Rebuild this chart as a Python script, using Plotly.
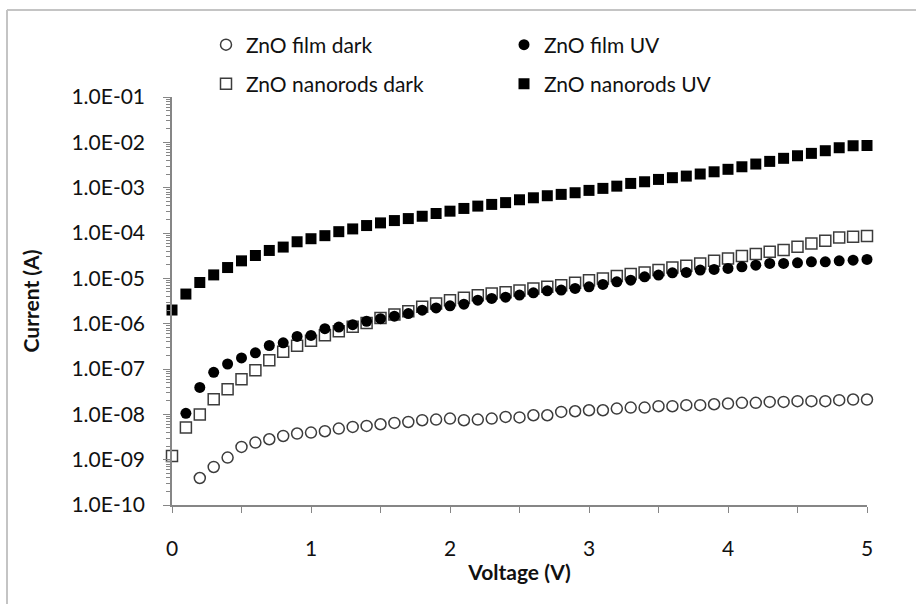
import plotly.graph_objects as go

# Bias voltage (V)
voltage = [0.0, 0.1, 0.2, 0.3, 0.4, 0.5, 0.6, 0.7, 0.8, 0.9,
           1.0, 1.1, 1.2, 1.3, 1.4, 1.5, 1.6, 1.7, 1.8, 1.9,
           2.0, 2.1, 2.2, 2.3, 2.4, 2.5, 2.6, 2.7, 2.8, 2.9,
           3.0, 3.1, 3.2, 3.3, 3.4, 3.5, 3.6, 3.7, 3.8, 3.9,
           4.0, 4.1, 4.2, 4.3, 4.4, 4.5, 4.6, 4.7, 4.8, 4.9, 5.0]

# Measured currents (A); None where no point was recorded
film_dark = [None, None, 3.94e-10, 6.90e-10, 1.11e-9, 1.91e-9, 2.38e-9, 2.82e-9, 3.33e-9, 3.77e-9,
             3.96e-9, 4.24e-9, 4.85e-9, 5.27e-9, 5.55e-9, 6.04e-9, 6.46e-9, 6.79e-9, 7.41e-9, 7.67e-9,
             8.07e-9, 7.41e-9, 7.67e-9, 8.07e-9, 8.77e-9, 8.55e-9, 9.55e-9, 9.55e-9, 1.13e-8, 1.17e-8,
             1.23e-8, 1.23e-8, 1.34e-8, 1.41e-8, 1.41e-8, 1.51e-8, 1.51e-8, 1.59e-8, 1.59e-8, 1.67e-8,
             1.73e-8, 1.79e-8, 1.79e-8, 1.88e-8, 1.88e-8, 1.95e-8, 1.95e-8, 1.95e-8, 2.05e-8, 2.12e-8, 2.12e-8]

film_uv = [None, 1.05e-8, 3.92e-8, 8.43e-8, 1.29e-7, 1.75e-7, 2.27e-7, 3.30e-7, 3.78e-7, 5.24e-7,
           5.51e-7, 7.74e-7, 8.43e-7, 9.51e-7, 1.13e-6, 1.29e-6, 1.46e-6, 1.67e-6, 1.98e-6, 2.23e-6,
           2.47e-6, 2.69e-6, 3.30e-6, 3.60e-6, 3.85e-6, 4.27e-6, 4.79e-6, 5.31e-6, 5.50e-6, 5.98e-6,
           6.50e-6, 7.33e-6, 8.38e-6, 9.12e-6, 1.08e-5, 1.18e-5, 1.32e-5, 1.35e-5, 1.52e-5, 1.57e-5,
           1.65e-5, 1.79e-5, 1.95e-5, 2.13e-5, 2.13e-5, 2.20e-5, 2.31e-5, 2.31e-5, 2.43e-5, 2.52e-5, 2.61e-5]

nanorods_dark = [1.20e-9, 5.10e-9, 9.90e-9, 2.15e-8, 3.58e-8, 5.96e-8, 9.42e-8, 1.56e-7, 2.39e-7, 3.24e-7,
                 4.18e-7, 5.57e-7, 6.82e-7, 8.51e-7, 1.04e-6, 1.34e-6, 1.60e-6, 1.89e-6, 2.35e-6, 2.79e-6,
                 3.30e-6, 3.72e-6, 4.26e-6, 4.65e-6, 4.91e-6, 5.40e-6, 5.98e-6, 6.50e-6, 7.08e-6, 7.96e-6,
                 9.12e-6, 9.93e-6, 1.12e-5, 1.24e-5, 1.35e-5, 1.52e-5, 1.74e-5, 1.89e-5, 2.13e-5, 2.43e-5,
                 2.75e-5, 3.09e-5, 3.42e-5, 3.85e-5, 4.20e-5, 4.95e-5, 5.89e-5, 6.73e-5, 8.00e-5, 8.24e-5, 8.55e-5]

nanorods_uv = [2.00e-6, 4.50e-6, 8.10e-6, 1.19e-5, 1.73e-5, 2.43e-5, 3.19e-5, 4.12e-5, 4.89e-5, 6.41e-5,
               7.48e-5, 8.73e-5, 1.07e-4, 1.23e-4, 1.46e-4, 1.67e-4, 1.88e-4, 2.08e-4, 2.34e-4, 2.69e-4,
               3.03e-4, 3.48e-4, 3.92e-4, 4.27e-4, 4.68e-4, 5.41e-4, 5.98e-4, 6.64e-4, 7.11e-4, 7.73e-4,
               8.71e-4, 9.64e-4, 1.08e-3, 1.24e-3, 1.35e-3, 1.52e-3, 1.66e-3, 1.80e-3, 2.00e-3, 2.24e-3,
               2.54e-3, 2.89e-3, 3.32e-3, 3.80e-3, 4.44e-3, 5.06e-3, 5.71e-3, 6.53e-3, 7.60e-3, 8.41e-3, 8.51e-3]

# Y-axis decades and their labels
y_tick_values = [1e-10, 1e-9, 1e-8, 1e-7, 1e-6, 1e-5, 1e-4, 1e-3, 1e-2, 1e-1]
y_tick_labels = ["1.0E-10", "1.0E-09", "1.0E-08", "1.0E-07", "1.0E-06",
                 "1.0E-05", "1.0E-04", "1.0E-03", "1.0E-02", "1.0E-01"]

FONT = "Lato, 'Open Sans', sans-serif"
TEXT = "#111111"
AXIS = "#868686"
OPEN_EDGE = "#3c3c3c"
MSIZE = 11

fig = go.Figure()

# Drawing order: dark curves first so the UV markers sit on top
fig.add_trace(go.Scatter(
    x=voltage, y=film_dark, mode="markers", name="ZnO film dark",
    marker=dict(symbol="circle-open", size=MSIZE, color=OPEN_EDGE, line=dict(width=1.5)),
    legend="legend", legendrank=1, cliponaxis=False))
fig.add_trace(go.Scatter(
    x=voltage, y=nanorods_dark, mode="markers", name="ZnO nanorods dark",
    marker=dict(symbol="square-open", size=MSIZE, color=OPEN_EDGE, line=dict(width=1.5)),
    legend="legend2", legendrank=1, cliponaxis=False))
fig.add_trace(go.Scatter(
    x=voltage, y=film_uv, mode="markers", name="ZnO film UV",
    marker=dict(symbol="circle", size=MSIZE, color="#000000"),
    legend="legend", legendrank=2, cliponaxis=False))
fig.add_trace(go.Scatter(
    x=voltage, y=nanorods_uv, mode="markers", name="ZnO nanorods UV",
    marker=dict(symbol="square", size=MSIZE, color="#000000"),
    legend="legend2", legendrank=2, cliponaxis=False))

W, H = 916, 604
L, R, T, B = 172, 49, 97, 99
pw, ph = W - L - R, H - T - B


def px_x(px):
    return (px - L) / pw


def px_y(py):
    return (H - B - py) / ph


legend_common = dict(
    orientation="h", xanchor="left", yanchor="middle",
    font=dict(family=FONT, size=21, color=TEXT),
    bgcolor="rgba(0,0,0,0)", entrywidth=253, entrywidthmode="pixels",
    traceorder="normal",
)

fig.update_layout(
    width=W, height=H,
    margin=dict(l=L, r=R, t=T, b=B),
    paper_bgcolor="white", plot_bgcolor="white",
    font=dict(family=FONT, size=21, color=TEXT),
    legend=dict(x=px_x(206), y=px_y(45), **legend_common),
    legend2=dict(x=px_x(206), y=px_y(84), **legend_common),
    xaxis=dict(
        range=[0, 5], dtick=1, tick0=0,
        showgrid=False, zeroline=False,
        showline=True, linecolor=AXIS, linewidth=1.5,
        ticks="outside", ticklen=6, tickcolor=AXIS, tickwidth=1,
        minor=dict(dtick=0.5, ticks="outside", ticklen=6, tickcolor=AXIS, showgrid=False),
        ticklabelstandoff=18,
        tickfont=dict(family=FONT, size=21, color=TEXT),
        title=dict(text="<b>Voltage (V)</b>", font=dict(family=FONT, size=21, color=TEXT), standoff=6),
    ),
    yaxis=dict(
        type="log", range=[-10, -1],
        tickvals=y_tick_values, ticktext=y_tick_labels,
        showgrid=False, zeroline=False,
        showline=True, linecolor=AXIS, linewidth=1.5,
        ticks="outside", ticklen=7, tickcolor=AXIS, tickwidth=1,
        minor=dict(dtick="D1", ticks="outside", ticklen=4, tickcolor=AXIS, showgrid=False),
        ticklabelstandoff=14,
        tickfont=dict(family=FONT, size=21, color=TEXT),
        title=dict(text="<b>Current (A)</b>", font=dict(family=FONT, size=21, color=TEXT), standoff=26),
    ),
    shapes=[
        # chart-area frame (top and left edges)
        dict(type="line", xref="paper", yref="paper",
             x0=px_x(7), x1=px_x(W + 5), y0=px_y(10), y1=px_y(10),
             line=dict(color="#c4c4c4", width=2)),
        dict(type="line", xref="paper", yref="paper",
             x0=px_x(7), x1=px_x(7), y0=px_y(10), y1=px_y(H + 5),
             line=dict(color="#c4c4c4", width=2)),
    ],
)

fig.write_html("out.html")
